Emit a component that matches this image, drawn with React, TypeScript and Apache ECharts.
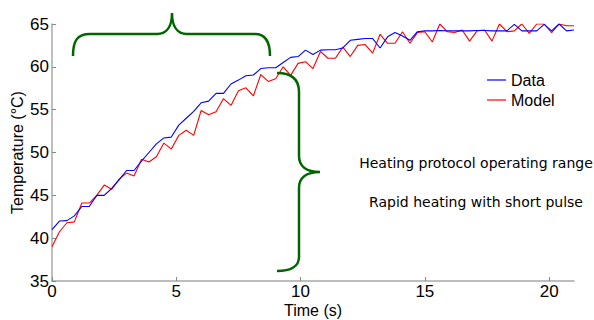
import React, { useEffect, useRef } from "react";
import * as echarts from "echarts";

const timeStep = 0.3;
const dataSeries = [
  41.0, 42.0, 42.05, 42.6, 43.7, 43.7, 45.0, 45.0, 45.8, 46.8,
  47.9, 47.9, 49.0, 50.0, 51.0, 51.7, 51.8, 53.2, 54.0, 54.8,
  55.8, 56.0, 56.9, 56.9, 58.0, 58.45, 58.95, 59.05, 59.8, 59.9,
  59.9, 60.5, 61.1, 61.2, 61.95, 61.45, 61.95, 62.0, 62.0, 62.2,
  63.1, 63.2, 63.3, 63.3, 62.2, 63.5, 64.0, 63.6, 63.1, 64.1,
  64.2, 64.2, 64.25, 64.2, 64.2, 64.2, 64.2, 64.25, 64.25, 64.2,
  64.2, 64.2, 64.95, 64.2, 64.2, 64.2, 64.95, 64.2, 65.0, 64.2,
  64.3,
];
const modelSeries = [
  39.0, 40.75, 41.8, 41.9, 44.1, 44.1, 45.0, 46.2, 45.7, 46.9,
  47.6, 47.25, 49.2, 48.9, 49.5, 51.1, 50.4, 52.0, 52.6, 52.0,
  54.9, 54.4, 54.75, 56.3, 55.5, 57.2, 57.55, 56.6, 59.1, 58.3,
  58.6, 60.0, 59.0, 60.4, 60.6, 59.8, 61.8, 61.0, 61.0, 62.3,
  61.2, 62.5, 62.6, 61.6, 63.8, 62.75, 62.75, 64.1, 62.75, 64.0,
  64.1, 62.9, 65.0, 64.1, 64.0, 64.3, 63.0, 64.2, 64.3, 63.0,
  65.0, 64.1, 64.2, 65.0, 63.9, 65.0, 65.0, 64.0, 65.0, 64.8,
  64.8,
];
const seriesNames = ["Data", "Model"];
const annotationTexts = ["Heating protocol operating range", "Rapid heating with short pulse"];

const topBrace =
  "M73,56 C73,41 77,34 90,34 L157,34 C167,34 172,26 172,13 C172,26 177,34 187,34 L255,34 C266,34 270,42 270,56";
const sideBrace =
  "M277,73 C291,73 299,79 299,92 L299,156 C299,166 306,172 320,172 C306,172 299,178 299,188 L299,257 C299,266 291,271 277,271";

echarts.graphic.registerShape("braceTop", echarts.graphic.extendPath(topBrace, {}));
echarts.graphic.registerShape("braceSide", echarts.graphic.extendPath(sideBrace, {}));

export default function App() {
  const ref = useRef<HTMLDivElement>(null);
  useEffect(() => {
    if (!ref.current) return;
    const chart = echarts.init(ref.current, null, { renderer: "svg" });
    const toPairs = (arr: number[]) => arr.map((v, i) => [+(i * timeStep).toFixed(2), v]);
    const axisFont = { fontFamily: "Liberation Sans, Arial, sans-serif", color: "#000" };
    chart.setOption({
      animation: false,
      backgroundColor: "#fff",
      grid: { left: 52, right: 20, top: 24, bottom: 39, containLabel: false, outerBoundsMode: "none" },
      legend: {
        orient: "vertical",
        left: 487,
        top: 72,
        padding: 0,
        icon: "rect",
        itemWidth: 19,
        itemHeight: 1.2,
        itemGap: 4,
        textStyle: { ...axisFont, fontSize: 16 },
        data: seriesNames,
      },
      xAxis: {
        type: "value",
        min: 0,
        max: 21,
        interval: 5,
        name: "Time (s)",
        nameLocation: "middle",
        nameGap: 21,
        nameMoveOverlap: false,
        nameTextStyle: { ...axisFont, fontSize: 16 },
        axisLine: { lineStyle: { color: "#a8a8a8", width: 1.5 } },
        axisTick: { inside: true, length: 4, lineStyle: { color: "#888" } },
        axisLabel: { ...axisFont, fontSize: 17, margin: 2, showMaxLabel: false },
        splitLine: { show: false },
      },
      yAxis: {
        type: "value",
        min: 35,
        max: 65,
        interval: 5,
        name: "Temperature (°C)",
        nameLocation: "middle",
        nameGap: 27,
        nameMoveOverlap: false,
        nameRotate: 90,
        nameTextStyle: { ...axisFont, fontSize: 16 },
        axisLine: { show: true, lineStyle: { color: "#a8a8a8", width: 1.5 } },
        axisTick: { show: true, inside: true, length: 4, lineStyle: { color: "#888" } },
        axisLabel: { ...axisFont, fontSize: 17, margin: 3 },
        splitLine: { show: false },
      },
      series: [
        {
          name: seriesNames[0],
          type: "line",
          data: toPairs(dataSeries),
          symbol: "none",
          lineStyle: { color: "#0000ff", width: 1.1 },
          itemStyle: { color: "#0000ff" },
          z: 3,
        },
        {
          name: seriesNames[1],
          type: "line",
          data: toPairs(modelSeries),
          symbol: "none",
          lineStyle: { color: "#ff0000", width: 1.1 },
          itemStyle: { color: "#ff0000" },
          z: 2,
        },
      ],
      graphic: [
        {
          type: "braceTop",
          x: 0,
          y: 0,
          style: { stroke: "#006600", lineWidth: 2.5, fill: "none" },
          z: 10,
        },
        {
          type: "braceSide",
          x: 0,
          y: 0,
          style: { stroke: "#006600", lineWidth: 2.5, fill: "none" },
          z: 10,
        },
        {
          type: "text",
          x: 476,
          y: 163,
          style: {
            text: annotationTexts[0],
            textAlign: "center",
            textVerticalAlign: "middle",
            fontSize: 14,
            fontFamily: "DejaVu Sans, Verdana, sans-serif",
            fill: "#000",
          },
        },
        {
          type: "text",
          x: 476,
          y: 202,
          style: {
            text: annotationTexts[1],
            textAlign: "center",
            textVerticalAlign: "middle",
            fontSize: 14,
            fontFamily: "DejaVu Sans, Verdana, sans-serif",
            fill: "#000",
          },
        },
      ],
    });
    return () => chart.dispose();
  }, []);
  return <div ref={ref} style={{ width: 594, height: 320, position: "absolute", left: 0, top: 0 }} />;
}
